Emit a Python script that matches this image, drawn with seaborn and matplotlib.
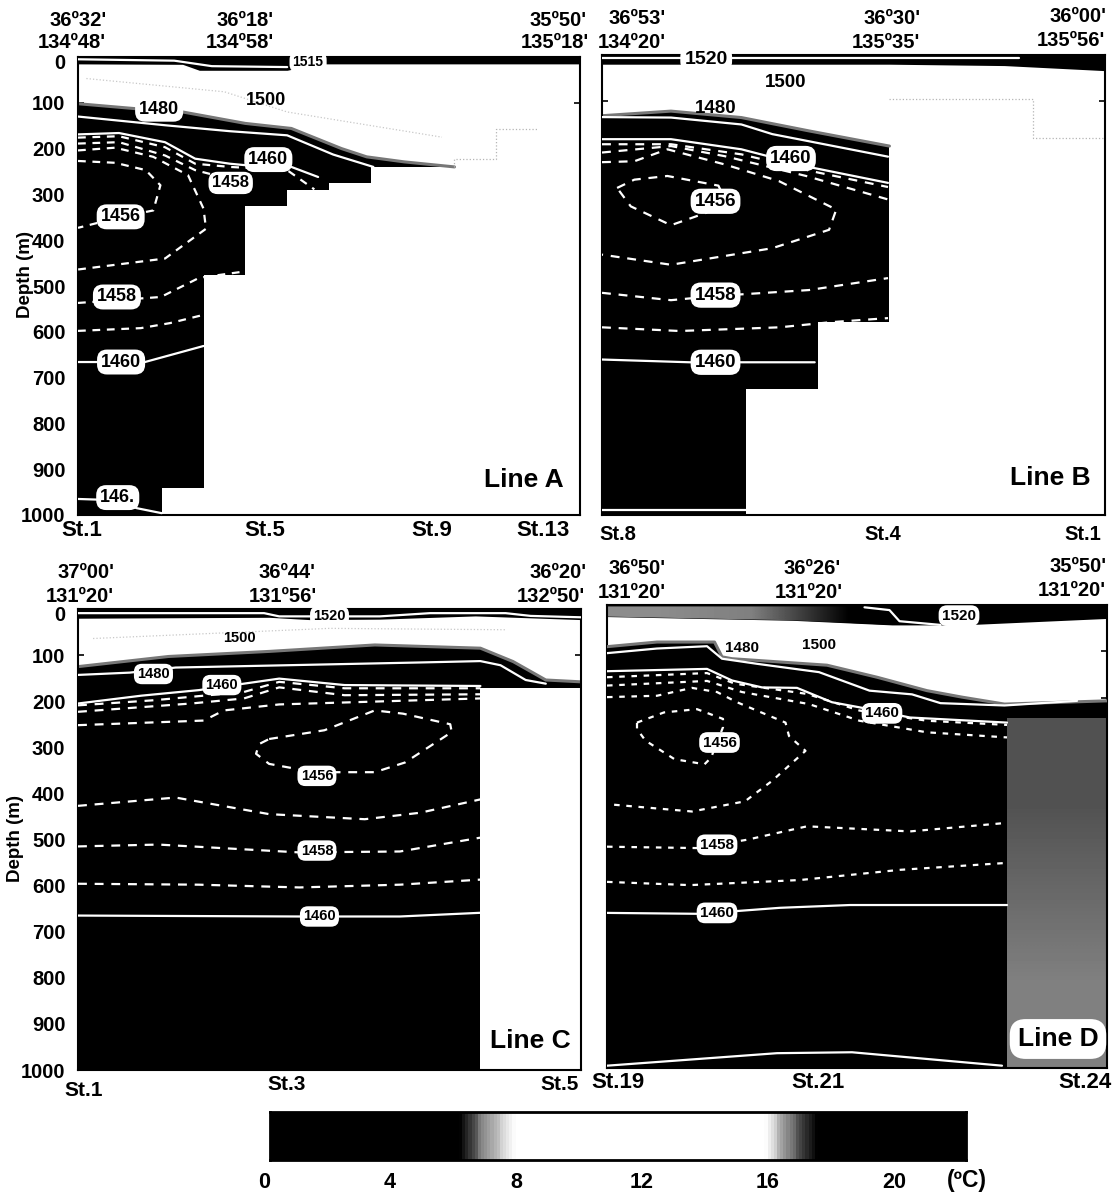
import numpy as np
import seaborn as sns
import matplotlib

matplotlib.use("Agg")
import matplotlib.pyplot as plt
from matplotlib.colors import LinearSegmentedColormap
from matplotlib.patches import Polygon
from matplotlib.transforms import ScaledTranslation

fig_w = 1118
fig_h = 1199

depth_ticks = [0, 100, 200, 300, 400, 500, 600, 700, 800, 900, 1000]

# Line A, x is station number
a_surface = [(1, 15), (3.5, 16), (3.9, 29), (6, 29), (6.7, 15), (13, 15)]
a_top = [(1, 102), (2.4, 113), (3.5, 120), (5, 145), (6.1, 156), (7.3, 200), (7.9, 218), (8.8, 229), (10, 240)]
a_bottom_x = [1, 3, 4, 5, 6, 7, 8, 10, 11, 12, 13]
a_bottom_z = [1000, 940, 476, 325, 290, 275, 240, 222, 158, 158, 158]
a_steps = [(10, 240), (10, 222), (11, 222), (11, 158), (12, 158)]
a_faint = [(1.2, 47), (4.5, 76), (6, 120), (9.7, 175)]
a_1515 = [(1, 5), (3.3, 8), (4.2, 20), (6, 22)]
a_1480 = [(1, 130), (3.08, 149), (4.63, 162), (6, 171), (7.1, 213), (8.06, 240)]
a_1460 = [(1, 169), (1.98, 166), (3.08, 186), (3.8, 222), (4.63, 233), (5.09, 237), (6.1, 240), (6.74, 262)]
a_1460b = [(1, 666), (2.6, 666), (3.2, 651), (4, 631)]
a_146 = [(1, 965), (2, 968), (2.4, 985), (3, 996)]
a_d1 = [(1, 176), (1.98, 173), (3.08, 197), (3.8, 233), (4.63, 240), (6, 247), (6.65, 289)]
a_d2 = [(1, 189), (1.98, 186), (3.08, 215), (3.8, 247), (4.27, 258), (5.27, 279)]
a_d3 = [(1, 204), (1.89, 198), (2.8, 218), (3.63, 258), (4, 331), (4.06, 375), (3.08, 440), (1, 464)]
a_1456 = [(1, 227), (1.89, 231), (2.62, 247), (2.97, 280), (2.8, 335), (2, 350), (1, 373)]
a_1458 = [(1, 537), (2.98, 524), (3.9, 482), (5, 468)]
a_d4 = [(1, 598), (2.5, 592), (3.2, 581), (4, 563)]

# Line B, x is stations from St.8
b_surface = [(0, 20), (4, 20), (5.6, 23), (7, 34)]
b_top = [(0, 132), (0.96, 122), (1.94, 136), (2.88, 165), (4, 198)]
b_bottom_x = [0, 2, 3, 4, 6, 7]
b_bottom_z = [1000, 727, 580, 96, 181, 181]
b_steps = [(4, 96), (6, 96), (6, 181), (7, 181)]
b_1520 = [(0, 7), (5.8, 7)]
b_1480 = [(0, 135), (0.96, 136), (1.94, 151), (2.37, 172), (3.98, 221)]
b_1460 = [(0, 183), (0.96, 183), (1.94, 205), (2.93, 245), (3.98, 278)]
b_1460b = [(0, 662), (1.22, 668), (2.96, 668)]
b_990 = [(0, 990), (2, 990)]
b_d1 = [(0, 194), (0.96, 194), (1.94, 216), (2.93, 253), (3.98, 287)]
b_d2 = [(0, 212), (0.96, 198), (1.71, 220), (2.84, 263), (3.98, 314)]
b_d3 = [(0, 233), (0.45, 231), (0.91, 205), (1.71, 238), (2.46, 274), (3.26, 336), (3.16, 380), (2.37, 420), (0.96, 456), (0, 434)]
b_1456 = [(0.21, 289), (0.45, 271), (0.91, 263), (1.62, 284), (1.7, 310), (1.45, 343), (0.96, 370), (0.4, 329), (0.21, 289)]
b_1458 = [(0, 517), (0.96, 533), (1.57, 524), (2.88, 511), (3.98, 485)]
b_d4 = [(0, 592), (1.08, 600), (2.47, 592), (3.17, 581), (3.98, 572)]

# Line C, x is percent along the section
c_surface = [(0, 20), (38, 18), (46, 23), (60, 22), (79, 15), (100, 23)]
c_top = [(0, 125), (18, 103), (38, 92), (59, 78), (80, 85), (86.5, 114), (93, 154), (100, 158)]
c_bottom_x = [0, 80, 100]
c_bottom_z = [1000, 172, 172]
c_faint = [(3, 64), (50, 42), (85, 45)]
c_1520 = [(0, 9), (37, 9), (40, 16), (60, 16), (70, 9), (85, 9), (90, 15), (100, 18)]
c_1480 = [(0, 143), (10.3, 138), (19.4, 127), (68, 116), (80, 113), (84, 122), (89, 154), (93, 162)]
c_1460 = [(0, 205), (12.6, 188), (24, 176), (40, 151), (53, 165), (80, 167)]
c_1460b = [(0, 665), (44, 667), (64, 667), (80, 659)]
c_d1 = [(0, 209), (15, 198), (33, 180), (40, 158), (53, 172), (80, 172)]
c_d2 = [(0, 223), (22.5, 205), (33, 194), (40, 170), (53, 187), (80, 185)]
c_d3 = [(0, 252), (25, 242), (29, 220), (40, 207), (80, 194)]
c_1456 = [(38, 282), (49, 263), (59, 220), (64.6, 227), (74, 250), (74.3, 267), (65, 333), (59, 354), (47, 354), (38, 336), (35.4, 314), (36, 293), (38, 282)]
c_d4 = [(0, 427), (19.4, 409), (38, 445), (57, 456), (68, 442), (80, 413)]
c_1458 = [(0, 515), (16, 511), (44, 528), (64, 526), (80, 496)]
c_d5 = [(0, 596), (24, 598), (44, 604), (64, 598), (80, 587)]

# Line D, x is percent along the section
d_surface = [(0, 25), (37, 33), (57, 43), (71, 43), (100, 29)]
d_top = [(0, 90), (10, 80), (21.5, 80), (23, 112), (25, 116), (44, 130), (54, 156), (64, 185), (71, 199), (79.5, 214), (100, 207)]
d_1520 = [(51.5, 5), (56.5, 11), (58.5, 35), (66.7, 43)]
d_1480 = [(0, 104), (10, 94), (20, 89), (23, 116), (30, 127), (42.4, 145), (52.5, 185), (61, 193), (66.7, 212), (79.5, 217), (94, 207)]
d_1460 = [(0, 143), (20, 138), (25, 163), (31, 178), (38, 179), (45, 210), (50.5, 221), (60.6, 243), (80, 254)]
d_1460b = [(0, 665), (18.6, 667), (34.6, 654), (48.6, 648), (80, 648)]
d_bed = [(0, 995), (34, 968), (49, 966), (79, 995)]
d_d1 = [(0, 156), (20, 147), (25.6, 170), (40, 192), (50.5, 228), (64, 250), (80, 259)]
d_d2 = [(0, 174), (20, 164), (27, 188), (40.4, 214), (50.5, 250), (64, 275), (80, 286)]
d_d3 = [(0, 199), (10, 196), (17, 179), (22, 188), (26, 210), (35.7, 254), (36.4, 283), (39.7, 315), (33, 380), (27.6, 424), (17, 446), (1, 431)]
d_1456 = [(6, 254), (11.4, 232), (18, 225), (23.2, 246), (23.2, 264), (20.8, 330), (19.5, 344), (13.5, 333), (7.7, 293), (6, 268), (6, 254)]
d_1458 = [(0, 522), (18, 525), (28, 507), (40, 478), (60.6, 489), (79.5, 471)]
d_d5 = [(0, 598), (16.6, 605), (38.6, 594), (58.6, 572), (80, 557)]

colorbar_ticks = [0, 4, 8, 12, 16, 20]
colorbar_temps = np.arange(0.2, 22.3, 0.1)

sns.set_theme(style="white")
plt.rcParams["font.family"] = ["Liberation Sans", "DejaVu Sans"]
plt.rcParams["font.weight"] = "bold"

fig = plt.figure(figsize=(fig_w / 100, fig_h / 100), dpi=100, facecolor="white")


def put(px, py, txt, size=14.5, ha="center", **kw):
    fig.text(px / fig_w, 1 - py / fig_h, txt, fontsize=size, ha=ha, va="center", fontweight="bold", color="black", **kw)


def make_panel(box, xlim, xticks, show_y):
    x0, y0, x1, y1 = box
    ax = fig.add_axes([x0 / fig_w, 1 - y1 / fig_h, (x1 - x0) / fig_w, (y1 - y0) / fig_h])
    ax.set_xlim(*xlim)
    ax.set_ylim(1000, 0)
    ax.set_xticks(xticks)
    ax.set_xticklabels([])
    ax.set_yticks(depth_ticks)
    if not show_y:
        ax.set_yticklabels([])
    ax.tick_params(axis="both", direction="in", length=4, width=1.2, color="black", labelcolor="black", top=True, right=True, bottom=True, left=True, labelsize=14.5, pad=9)
    if show_y:
        # the 0 label sits a little under the top edge
        lab = ax.get_yticklabels()[0]
        lab.set_transform(lab.get_transform() + ScaledTranslation(0, -3 / 72, fig.dpi_scale_trans))
    for s in ax.spines.values():
        s.set_color("black")
        s.set_linewidth(1.5)
    return ax


def line(ax, pts, color="white", lw=1.6, ls="-"):
    xs = [p[0] for p in pts]
    zs = [p[1] for p in pts]
    sns.lineplot(x=xs, y=zs, ax=ax, color=color, linewidth=lw, linestyle=ls, sort=False, estimator=None, zorder=4)


def base(ax, surface, top, bottom_x, bottom_z):
    tx = [p[0] for p in top]
    tz = [p[1] for p in top]
    ax.fill_between(tx, tz, 1000, color="black", lw=0, zorder=1)
    ax.fill_between(bottom_x, bottom_z, 1000, step="post", color="white", lw=0, zorder=2)
    ax.fill_between([p[0] for p in surface], 0, [p[1] for p in surface], color="black", lw=0, zorder=2)
    sns.lineplot(x=tx, y=tz, ax=ax, color="#777777", linewidth=2.2, sort=False, estimator=None, zorder=2.5)


def tag(ax, x, z, txt, size, box=True):
    kw = {}
    if box:
        kw["bbox"] = dict(boxstyle="round,pad=0.22,rounding_size=0.55", fc="white", ec="none")
    ax.text(x, z, txt, fontsize=size, ha="center", va="center", fontweight="bold", color="black", zorder=6, **kw)


# Line A
ax_a = make_panel((78, 57, 580, 515), (1, 13), list(range(1, 14)), True)
base(ax_a, a_surface, a_top, a_bottom_x, a_bottom_z)
line(ax_a, a_steps, "#b5b5b5", 0.9, ":")
line(ax_a, a_faint, "#c8c8c8", 0.9, ":")
for c in [a_1515, a_1480, a_1460, a_1460b, a_146]:
    line(ax_a, c)
for c in [a_d1, a_d2, a_d3, a_1456, a_1458, a_d4]:
    line(ax_a, c, ls=(0, (3.5, 3)))
tag(ax_a, 6.5, 11, "1515", 10)
tag(ax_a, 2.94, 114, "1480", 13)
tag(ax_a, 5.5, 95, "1500", 13, box=False)
tag(ax_a, 5.55, 224, "1460", 13)
tag(ax_a, 4.65, 275, "1458", 12)
tag(ax_a, 2.02, 349, "1456", 13)
tag(ax_a, 1.93, 524, "1458", 13)
tag(ax_a, 2.03, 666, "1460", 13)
tag(ax_a, 1.95, 962, "146.", 13)

# Line B
ax_b = make_panel((602, 55, 1105, 515), (0, 7), list(range(0, 8)), False)
base(ax_b, b_surface, b_top, b_bottom_x, b_bottom_z)
line(ax_b, b_steps, "#b5b5b5", 0.9, ":")
for c in [b_1520, b_1480, b_1460, b_1460b, b_990]:
    line(ax_b, c)
for c in [b_d1, b_d2, b_d3, b_1456, b_1458, b_d4]:
    line(ax_b, c, ls=(0, (4, 3.5)))
tag(ax_b, 1.45, 9, "1520", 14)
tag(ax_b, 2.56, 60, "1500", 13.5, box=False)
tag(ax_b, 1.58, 116, "1480", 13.5, box=False)
tag(ax_b, 2.63, 225, "1460", 13.5)
tag(ax_b, 1.58, 318, "1456", 13.5)
tag(ax_b, 1.58, 522, "1458", 13.5)
tag(ax_b, 1.58, 668, "1460", 13.5)

# Line C
ax_c = make_panel((78, 609, 581, 1070), (0, 100), [0, 20, 40, 60, 80, 100], True)
base(ax_c, c_surface, c_top, c_bottom_x, c_bottom_z)
line(ax_c, c_faint, "#c8c8c8", 0.9, ":")
for c in [c_1520, c_1480, c_1460, c_1460b]:
    line(ax_c, c)
for c in [c_d1, c_d2, c_d3, c_1456, c_d4, c_1458, c_d5]:
    line(ax_c, c, ls=(0, (4, 3.5)))
tag(ax_c, 50, 16, "1520", 10.5)
tag(ax_c, 32, 62, "1500", 10.5, box=False)
tag(ax_c, 15, 141, "1480", 10.5)
tag(ax_c, 28.6, 165, "1460", 10.5)
tag(ax_c, 47.5, 362, "1456", 10.5)
tag(ax_c, 47.5, 524, "1458", 10.5)
tag(ax_c, 48, 667, "1460", 10.5)

# Line D
ax_d = make_panel((607, 605, 1107, 1068), (0, 100), [0, 20, 40, 60, 80, 100], False)
ax_d.fill_between([p[0] for p in d_top], [p[1] for p in d_top], 1000, color="black", lw=0, zorder=1)
ax_d.imshow([[0.32], [0.5]], extent=(80, 100, 1000, 246), aspect="auto", cmap="gray", vmin=0, vmax=1, interpolation="bilinear", zorder=2)
ax_d.fill_between([p[0] for p in d_surface], 0, [p[1] for p in d_surface], color="black", lw=0, zorder=2)
# grey band along the surface fading out to the right
band = ax_d.imshow([[0.55, 0.5, 0.0]], extent=(0, 58, 45, 3), aspect="auto", cmap="gray", vmin=0, vmax=1, interpolation="bilinear", zorder=2.2)
band.set_clip_path(Polygon([(0, 3)] + d_surface + [(100, 3)], transform=ax_d.transData))
ax_d.set_xlim(0, 100)
ax_d.set_ylim(1000, 0)
line(ax_d, d_top, "#777777", 2.2)
for c in [d_1520, d_1480, d_1460, d_1460b, d_bed]:
    line(ax_d, c)
for c in [d_d1, d_d2, d_d3, d_1456, d_1458, d_d5]:
    line(ax_d, c, ls=(0, (2.5, 3)))
tag(ax_d, 70.4, 23, "1520", 11)
tag(ax_d, 27, 92, "1480", 11, box=False)
tag(ax_d, 42.4, 87, "1500", 11, box=False)
tag(ax_d, 55, 234, "1460", 11)
tag(ax_d, 22.5, 297, "1456", 11)
tag(ax_d, 22, 518, "1458", 11)
tag(ax_d, 22, 665, "1460", 11)

# colour bar
cb_cmap = LinearSegmentedColormap.from_list(
    "cb",
    [(0, "black"), (6.2 / 22.3, "black"), (6.9 / 22.3, "#888888"), (7.9 / 22.3, "white"), (15.9 / 22.3, "white"), (16.6 / 22.3, "#888888"), (17.5 / 22.3, "black"), (1, "black")],
)
ax_cb = fig.add_axes([270 / fig_w, 1 - 1160 / fig_h, 696 / fig_w, 48 / fig_h])
sns.heatmap([colorbar_temps], ax=ax_cb, cmap=cb_cmap, vmin=0, vmax=22.3, cbar=False, xticklabels=False, yticklabels=False)
for s in ax_cb.spines.values():
    s.set_visible(True)
    s.set_color("black")
    s.set_linewidth(2)

for t in colorbar_ticks:
    put(264 + 31.5 * t, 1182, str(t), size=15.5)
put(967, 1181, "(ºC)", size=16.5)

# coordinates along the top of each panel
put(78, 20, "36º32'")
put(245, 20, "36º18'")
put(558, 20, "35º50'")
put(72, 43, "134º48'")
put(240, 43, "134º58'")
put(555, 43, "135º18'")
put(637, 18, "36º53'")
put(892, 18, "36º30'")
put(1078, 16, "36º00'")
put(632, 42, "134º20'")
put(886, 42, "135º35'")
put(1071, 41, "135º56'")
put(86, 573, "37º00'")
put(287, 573, "36º44'")
put(558, 573, "36º20'")
put(80, 596, "131º20'")
put(283, 596, "131º56'")
put(551, 596, "132º50'")
put(637, 568, "36º50'")
put(812, 568, "36º26'")
put(1078, 566, "35º50'")
put(632, 593, "131º20'")
put(809, 593, "131º20'")
put(1072, 591, "131º20'")

# stations
put(82, 531, "St.1", size=16)
put(265, 531, "St.5", size=16)
put(432, 531, "St.9", size=16)
put(543, 531, "St.13", size=16)
put(618, 534, "St.8", size=14.5)
put(883, 534, "St.4", size=14.5)
put(1083, 534, "St.1", size=14.5)
put(84, 1090, "St.1", size=15)
put(287, 1084, "St.3", size=15)
put(560, 1084, "St.5", size=15)
put(618, 1082, "St.19", size=16)
put(818, 1082, "St.21", size=16)
put(1085, 1082, "St.24", size=16)

# side labels and panel names
put(25, 274, "Depth (m)", size=13.5, rotation=90)
put(15, 838, "Depth (m)", size=13.5, rotation=90)
put(524, 480, "Line A", size=19)
put(1050, 478, "Line B", size=19)
put(530, 1041, "Line C", size=19)
fig.text(1058 / fig_w, 1 - 1039 / fig_h, "Line D", fontsize=19, ha="center", va="center", fontweight="bold", color="black", zorder=10,
         bbox=dict(boxstyle="round,pad=0.3,rounding_size=0.6", fc="white", ec="none"))

plt.savefig("out.png", dpi=100)
